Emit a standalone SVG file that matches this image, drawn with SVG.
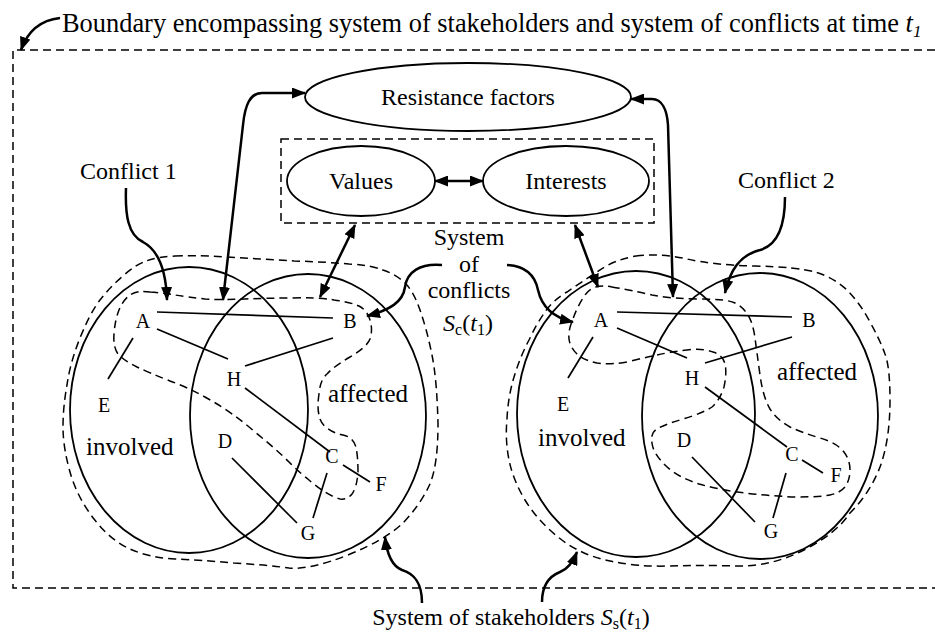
<svg xmlns="http://www.w3.org/2000/svg" width="935" height="634" viewBox="0 0 935 634">
<style>
text{font-family:"Liberation Serif","Times New Roman",serif;fill:#000}
.lbl{font-size:24px}
.nd{font-size:20px;text-anchor:middle}
.big{font-size:25px}
.ell{fill:none;stroke:#000;stroke-width:1.8}
.dash{fill:none;stroke:#000;stroke-width:1.5;stroke-dasharray:8 5}
.arr{fill:none;stroke:#000;stroke-width:2.5}
.ed{stroke:#000;stroke-width:1.7}
</style>
<defs>
<marker id="ah" viewBox="0 0 14 11" refX="13" refY="5.5" markerWidth="14" markerHeight="11" markerUnits="userSpaceOnUse" orient="auto-start-reverse"><path d="M0,0 L14,5.5 L0,11 z" fill="#000"/></marker>
</defs>
<rect width="935" height="634" fill="#fff"/>
<g id="boundary">
<path class="dash" d="M935,50 H13 V588 H935"/>
<text class="lbl" x="62" y="32" style="font-size:26.4px">Boundary encompassing system of stakeholders and system of conflicts at time <tspan font-style="italic">t</tspan><tspan font-style="italic" font-size="17" dy="5">1</tspan></text>
</g>
<g id="resistance">
<ellipse class="ell" cx="468" cy="97" rx="163" ry="34"/>
<text class="lbl" x="468" y="105" text-anchor="middle">Resistance factors</text>
</g>
<g id="values-interests-box">
<rect class="dash" x="281" y="139" width="373" height="84"/>
</g>
<g id="values">
<ellipse class="ell" cx="361" cy="181" rx="74" ry="35"/>
<text class="lbl" x="361" y="189" text-anchor="middle">Values</text>
</g>
<g id="interests">
<ellipse class="ell" cx="566" cy="181" rx="83" ry="35"/>
<text class="lbl" x="566" y="189" text-anchor="middle">Interests</text>
</g>
<g id="conflict1-label"><text class="lbl" x="80" y="179">Conflict 1</text></g>
<g id="conflict2-label"><text class="lbl" x="738" y="188">Conflict 2</text></g>
<g id="system-conflicts-label">
<text class="lbl" text-anchor="middle"><tspan x="469" y="245">System</tspan><tspan x="469" y="272">of</tspan><tspan x="469" y="298">conflicts</tspan></text>
<text class="lbl" x="468" y="331" text-anchor="middle"><tspan font-style="italic">S</tspan><tspan font-size="16" dy="4">c</tspan><tspan dy="-4">(</tspan><tspan font-style="italic">t</tspan><tspan font-size="16" dy="4">1</tspan><tspan dy="-4">)</tspan></text>
</g>
<g id="system-stakeholders-label">
<text class="lbl" x="511" y="625" text-anchor="middle">System of stakeholders <tspan font-style="italic">S</tspan><tspan font-size="16" dy="4">s</tspan><tspan dy="-4">(</tspan><tspan font-style="italic">t</tspan><tspan font-size="16" dy="4">1</tspan><tspan dy="-4">)</tspan></text>
</g>
<g id="venn-left">
<path class="dash" d="M175,256 Q193,255 226,257 Q260,259 294,261 Q327,262 349,264 Q370,265 383,270 Q395,274 404,282 Q413,290 420,310 Q427,330 432,355 Q437,380 438,424 Q438,467 429,486 Q420,505 403,523 Q385,540 348,555 Q310,570 289,568 Q267,565 234,563 Q200,560 175,559 Q150,558 130,549 Q110,540 94,519 Q77,497 70,472 Q63,447 63,427 Q63,407 67,385 Q70,363 80,338 Q90,313 100,300 Q110,287 123,276 Q135,265 146,261 Q157,257 175,256 Z"/>
<path class="dash" d="M150,292 Q163,293 175,295 Q187,297 205,299 Q223,300 245,299 Q267,298 292,298 Q317,297 334,300 Q350,302 359,306 Q367,310 370,320 Q373,330 370,339 Q367,347 350,357 Q333,367 327,374 Q320,380 319,394 Q317,407 319,415 Q320,423 327,428 Q333,433 343,435 Q353,437 356,447 Q358,457 358,472 Q357,487 352,494 Q347,500 340,499 Q333,497 325,492 Q317,487 309,480 Q300,473 289,462 Q277,450 255,432 Q233,413 212,401 Q190,388 170,381 Q150,373 137,367 Q123,360 118,354 Q113,347 114,334 Q115,320 119,310 Q123,300 130,295 Q137,290 150,292 Z"/>
<ellipse class="ell" cx="189" cy="410" rx="119" ry="143"/>
<ellipse class="ell" cx="308" cy="416" rx="118" ry="142"/>
<line class="ed" x1="157" y1="312" x2="333" y2="318"/>
<line class="ed" x1="157" y1="329" x2="228" y2="359"/>
<line class="ed" x1="333" y1="338" x2="245" y2="366"/>
<line class="ed" x1="133" y1="338" x2="108" y2="379"/>
<line class="ed" x1="245" y1="388" x2="330" y2="452"/>
<line class="ed" x1="343" y1="465" x2="370" y2="482"/>
<line class="ed" x1="327" y1="473" x2="313" y2="518"/>
<line class="ed" x1="232" y1="458" x2="297" y2="523"/>
<text class="nd" x="143" y="328">A</text>
<text class="nd" x="350" y="328">B</text>
<text class="nd" x="234" y="386">H</text>
<text class="nd" x="104" y="412">E</text>
<text class="nd" x="225" y="448">D</text>
<text class="nd" x="332" y="463">C</text>
<text class="nd" x="381" y="491">F</text>
<text class="nd" x="308" y="540">G</text>
<text class="big" x="86" y="455">involved</text>
<text class="big" x="328" y="402">affected</text>
</g>
<g id="venn-right">
<path class="dash" d="M636,256 Q660,253 687,259 Q713,265 755,266 Q797,267 815,272 Q833,277 847,290 Q860,303 870,322 Q880,340 885,354 Q890,367 890,400 Q890,440 880,467 Q870,493 850,513 Q837,533 804,550 Q770,567 737,566 Q703,565 670,566 Q637,567 610,561 Q580,555 558,537 Q537,520 525,500 Q513,480 509,460 Q505,440 507,419 Q508,397 514,377 Q520,357 529,340 Q537,323 545,312 Q553,300 567,292 Q580,283 597,272 Q613,260 636,256 Z"/>
<path class="dash" d="M612,287 Q630,290 652,295 Q673,299 700,299 Q727,299 735,303 Q743,307 748,315 Q753,323 755,338 Q757,353 760,375 Q763,397 770,409 Q777,420 790,427 Q803,433 820,438 Q837,443 844,452 Q850,460 850,470 Q850,480 845,487 Q840,493 830,495 Q820,497 795,497 Q770,496 745,493 Q720,490 699,484 Q677,477 665,465 Q653,453 652,443 Q650,433 657,429 Q663,425 683,419 Q703,413 712,407 Q720,400 724,387 Q727,373 725,364 Q723,355 713,352 Q703,348 687,350 Q670,352 657,355 Q643,358 627,362 Q610,365 597,363 Q583,360 577,354 Q570,347 569,339 Q568,330 573,319 Q577,307 585,295 Q593,283 612,287 Z"/>
<ellipse class="ell" cx="636" cy="414" rx="119" ry="143"/>
<ellipse class="ell" cx="760" cy="416" rx="118" ry="143"/>
<line class="ed" x1="617" y1="312" x2="792" y2="317"/>
<line class="ed" x1="617" y1="328" x2="687" y2="358"/>
<line class="ed" x1="792" y1="337" x2="705" y2="363"/>
<line class="ed" x1="593" y1="337" x2="568" y2="378"/>
<line class="ed" x1="705" y1="387" x2="787" y2="447"/>
<line class="ed" x1="802" y1="460" x2="823" y2="473"/>
<line class="ed" x1="786" y1="473" x2="773" y2="518"/>
<line class="ed" x1="692" y1="457" x2="755" y2="522"/>
<text class="nd" x="601" y="327">A</text>
<text class="nd" x="809" y="327">B</text>
<text class="nd" x="692" y="385">H</text>
<text class="nd" x="563" y="411">E</text>
<text class="nd" x="684" y="447">D</text>
<text class="nd" x="792" y="461">C</text>
<text class="nd" x="836" y="482">F</text>
<text class="nd" x="771" y="538">G</text>
<text class="big" x="538" y="446">involved</text>
<text class="big" x="777" y="380">affected</text>
</g>
<g id="connectors">
<path class="arr" d="M60,18 C42,20 28,30 21,50" marker-end="url(#ah)"/>
<path class="arr" d="M305,93 H262 C250,93 245,105 243,125 L223,300" marker-start="url(#ah)" marker-end="url(#ah)"/>
<path class="arr" d="M631,99 H652 C662,99 667,110 668,125 L673,297" marker-start="url(#ah)" marker-end="url(#ah)"/>
<path class="arr" d="M435,181 H483" marker-start="url(#ah)" marker-end="url(#ah)"/>
<path class="arr" d="M355,225 L320,297" marker-start="url(#ah)" marker-end="url(#ah)"/>
<path class="arr" d="M575,225 L598,287" marker-start="url(#ah)" marker-end="url(#ah)"/>
<path class="arr" d="M126,188 C125,215 128,235 143,242 C158,250 166,270 167,300" marker-end="url(#ah)"/>
<path class="arr" d="M785,197 C785,225 778,245 760,250 C740,255 730,270 725,293" marker-end="url(#ah)"/>
<path class="arr" d="M442,265 C420,263 407,272 405,287 C403,302 390,310 367,316" marker-end="url(#ah)"/>
<path class="arr" d="M507,265 C525,266 535,275 538,290 C542,308 555,318 573,322" marker-end="url(#ah)"/>
<path class="arr" d="M422,603 C422,580 412,573 402,570 C392,566 387,555 385,537" marker-end="url(#ah)"/>
<path class="arr" d="M542,602 C542,585 550,576 560,572 C568,569 573,562 577,552" marker-end="url(#ah)"/>
</g>
</svg>
